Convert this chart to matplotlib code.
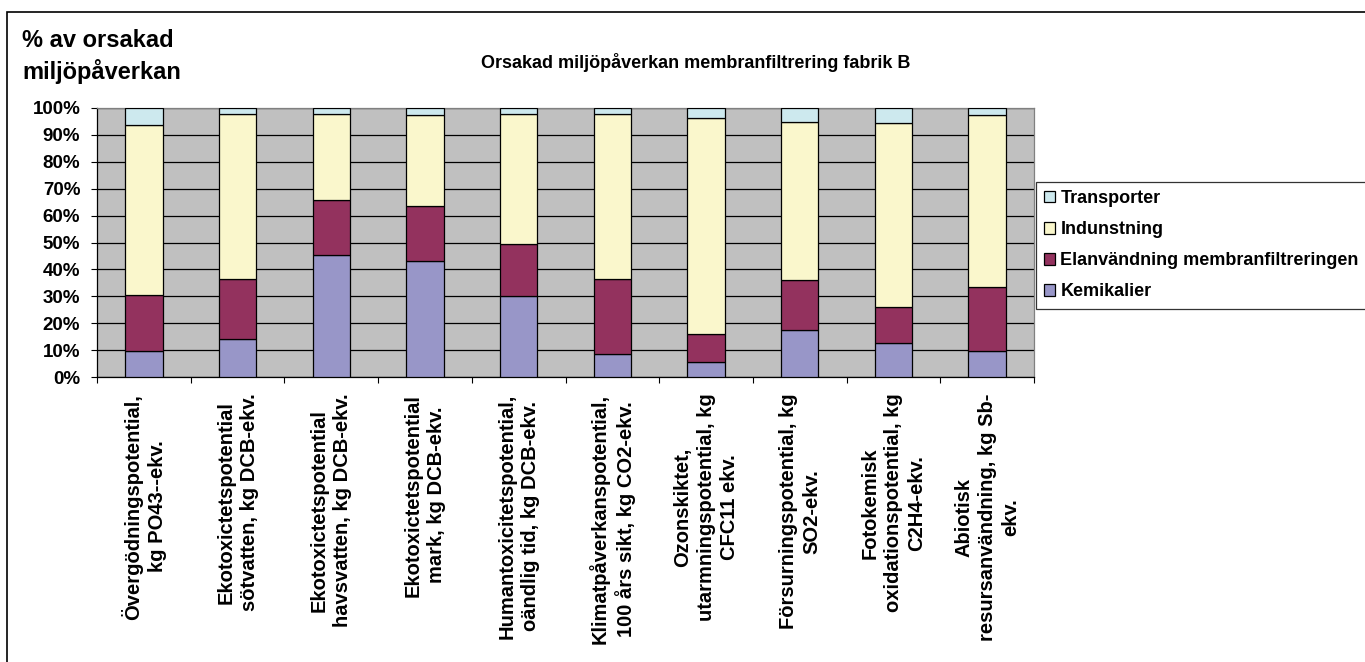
import numpy as np
import matplotlib
matplotlib.use("Agg")
import matplotlib.pyplot as plt
from matplotlib.patches import Rectangle

plt.rcParams['font.family'] = ['Liberation Sans', 'DejaVu Sans']
plt.rcParams['font.weight'] = 'bold'

# -----------------------------------------------------------------------------
# Data: share of impact (%) per category, stacked bottom -> top
# -----------------------------------------------------------------------------
categories = [
    "Övergödningspotential,\nkg PO43--ekv.",
    "Ekotoxictetspotential\nsötvatten, kg DCB-ekv.",
    "Ekotoxictetspotential\nhavsvatten, kg DCB-ekv.",
    "Ekotoxictetspotential\nmark, kg DCB-ekv.",
    "Humantoxicitetspotential,\noändlig tid, kg DCB-ekv.",
    "Klimatpåverkanspotential,\n100 års sikt, kg CO2-ekv.",
    "Ozonskiktet,\nutarmningspotential, kg\nCFC11 ekv.",
    "Försurningspotential, kg\nSO2-ekv.",
    "Fotokemisk\noxidationspotential, kg\nC2H4-ekv.",
    "Abiotisk\nresursanvändning, kg Sb-\nekv.",
]
kemikalier   = [9.7, 14.0, 45.3, 43.3, 30.1, 8.6, 5.7, 17.5, 12.5, 9.6]
elanvandning = [20.9, 22.4, 20.4, 20.3, 19.5, 27.8, 10.3, 18.4, 13.7, 23.8]
indunstning  = [62.9, 61.5, 32.2, 33.9, 48.3, 61.4, 80.3, 59.0, 68.2, 64.0]
transporter  = [6.5, 2.1, 2.1, 2.5, 2.1, 2.2, 3.7, 5.1, 5.6, 2.6]

series = [
    ("Kemikalier", kemikalier, "#9896C8"),
    ("Elanvändning membranfiltreringen", elanvandning, "#93325E"),
    ("Indunstning", indunstning, "#FAF7CC"),
    ("Transporter", transporter, "#CDE9EE"),
]

W, H = 1365, 662
fig = plt.figure(figsize=(W / 100, H / 100), dpi=100)

# plot area in pixel coordinates
left, right, top, bottom = 97, 1034, 108, 377
ax = fig.add_axes([left / W, 1 - bottom / H, (right - left) / W, (bottom - top) / H])
ax.set_facecolor("#C0C0C0")

x = np.arange(len(categories))
base = np.zeros(len(categories))
handles = {}
for name, vals, color in series:
    vals = np.array(vals)
    b = ax.bar(x, vals, width=0.4, bottom=base, color=color,
               edgecolor="black", linewidth=0.9, zorder=3, label=name)
    handles[name] = b
    base += vals

ax.set_xlim(-0.5, len(categories) - 0.5)
ax.set_ylim(0, 100)
ax.set_yticks(np.arange(0, 101, 10))
ax.set_yticklabels([f"{v}%" for v in range(0, 101, 10)], fontsize=13.5, fontweight="bold")
ax.yaxis.grid(True, color="black", linewidth=0.9, zorder=1)
ax.tick_params(axis="y", direction="out", length=4, width=0.8, pad=8)

# category labels at bar centres, tick marks at boundaries
ax.set_xticks(x)
ax.set_xticklabels(categories, rotation=90, fontsize=14.5, fontweight="bold",
                   ha="center", va="top", multialignment="center", linespacing=1.3)
ax.tick_params(axis="x", which="major", length=0, pad=12)
ax.set_xticks(np.arange(-0.5, len(categories), 1.0), minor=True)
ax.tick_params(axis="x", which="minor", direction="out", length=4, width=0.8)

for side in ("top", "right"):
    ax.spines[side].set_color("#808080")
for side in ("left", "bottom"):
    ax.spines[side].set_color("black")
for sp in ax.spines.values():
    sp.set_linewidth(0.9)

# legend, top entry first
order = ["Transporter", "Indunstning", "Elanvändning membranfiltreringen", "Kemikalier"]
leg = fig.legend([handles[n] for n in order], order,
                 loc="upper left", bbox_to_anchor=(1036 / W, 1 - 182 / H),
                 prop={"weight": "bold", "size": 13},
                 frameon=True, fancybox=False, shadow=False,
                 handlelength=0.6, handleheight=0.6, handletextpad=0.3,
                 labelspacing=0.78, borderpad=0.45, borderaxespad=0)
leg.get_frame().set_edgecolor("black")
leg.get_frame().set_linewidth(0.9)

# titles
fig.text(696 / W, 1 - 63 / H, "Orsakad miljöpåverkan membranfiltrering fabrik B",
         ha="center", va="center", fontsize=13, fontweight="bold")
fig.text(22 / W, 1 - 47 / H, "% av orsakad", ha="left", va="baseline",
         fontsize=17, fontweight="bold")
fig.text(22 / W, 1 - 79 / H, "miljöpåverkan", ha="left", va="baseline",
         fontsize=17, fontweight="bold")

# chart border
fig.patches.append(Rectangle((7 / W, -0.1), 2.0, 1 - 12 / H + 0.1, transform=fig.transFigure,
                             fill=False, edgecolor="black", linewidth=1.2))

fig.savefig("out.png", dpi=100)
